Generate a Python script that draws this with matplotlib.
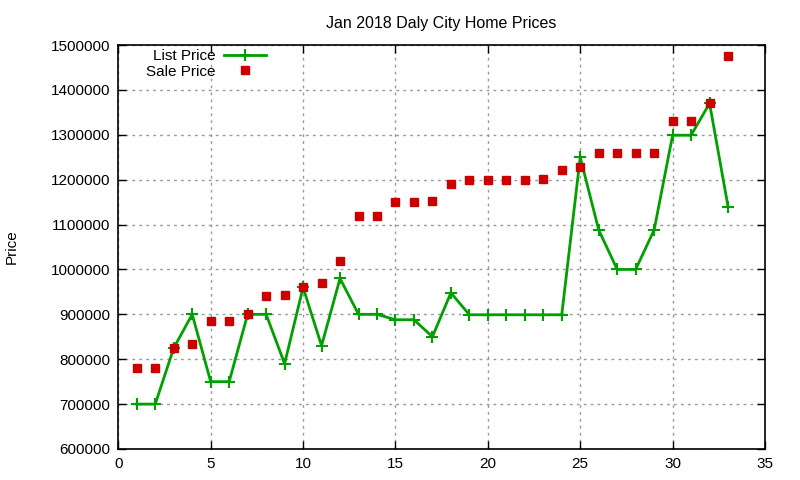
import matplotlib
matplotlib.use("Agg")
import matplotlib.pyplot as plt
from matplotlib.ticker import FixedLocator

plt.rcParams['font.family'] = ['Liberation Sans', 'DejaVu Sans']

homes = list(range(1, 34))
list_price = [700000, 700000, 825000, 900000, 750000, 750000, 900000, 900000, 790000, 960000,
              830000, 980000, 900000, 900000, 888000, 888000, 850000, 948000, 899000, 899000,
              899000, 899000, 899000, 899000, 1250000, 1088000, 1000000, 1000000, 1088000, 1299000,
              1299000, 1370000, 1140000]
sale_price = [780000, 780000, 825000, 834000, 885000, 885000, 900000, 940000, 942000, 960000,
              969000, 1019000, 1119000, 1119000, 1150000, 1150000, 1152000, 1190000, 1199000, 1199000,
              1199000, 1199000, 1201000, 1221000, 1228000, 1259000, 1259000, 1259000, 1259000, 1331000,
              1331000, 1371000, 1476000]
xticks = [0, 5, 10, 15, 20, 25, 30, 35]
yticks = [600000, 700000, 800000, 900000, 1000000, 1100000, 1200000, 1300000, 1400000, 1500000]

fig = plt.figure(figsize=(8, 4.8), dpi=100)
ax = fig.add_axes([118.3/800, 1-449/480, (765-118.3)/800, (449-45)/480])

ax.plot(homes, list_price, color='#00a000', lw=2, marker='+', ms=9, mew=1.5,
        label='List Price', zorder=3)
ax.plot(homes, sale_price, ls='none', color='#cc0000', marker='s', ms=5.5,
        label='Sale Price', zorder=4)

ax.set_xlim(0, 35)
ax.set_ylim(600000, 1500000)
ax.xaxis.set_major_locator(FixedLocator(xticks))
ax.yaxis.set_major_locator(FixedLocator(yticks))
ax.set_yticklabels([str(v) for v in yticks])
ax.set_xticklabels([str(v) for v in xticks])
ax.tick_params(direction='in', length=6, width=1, top=True, right=True,
               labelsize=11, pad=6)
ax.grid(True, color='#999999', ls=(0, (2, 3)), lw=1)
for s in ax.spines.values():
    s.set_linewidth(1.2)

ax.set_title('Jan 2018 Daly City Home Prices', fontsize=11.5, pad=12)
fig.text(12/800, 1-247/480, 'Price', rotation=90, fontsize=11, va='center', ha='center')

leg = ax.legend(loc='upper left', bbox_to_anchor=(0.04, 0.993), frameon=False,
                markerfirst=False, fontsize=11, handlelength=2.7, labelspacing=0.08,
                borderaxespad=0.0, handletextpad=0.6, borderpad=0.1)
for t in leg.get_texts():
    t.set_ha('right')
leg._legend_box.align = 'right'

fig.savefig('out.png', dpi=100)
